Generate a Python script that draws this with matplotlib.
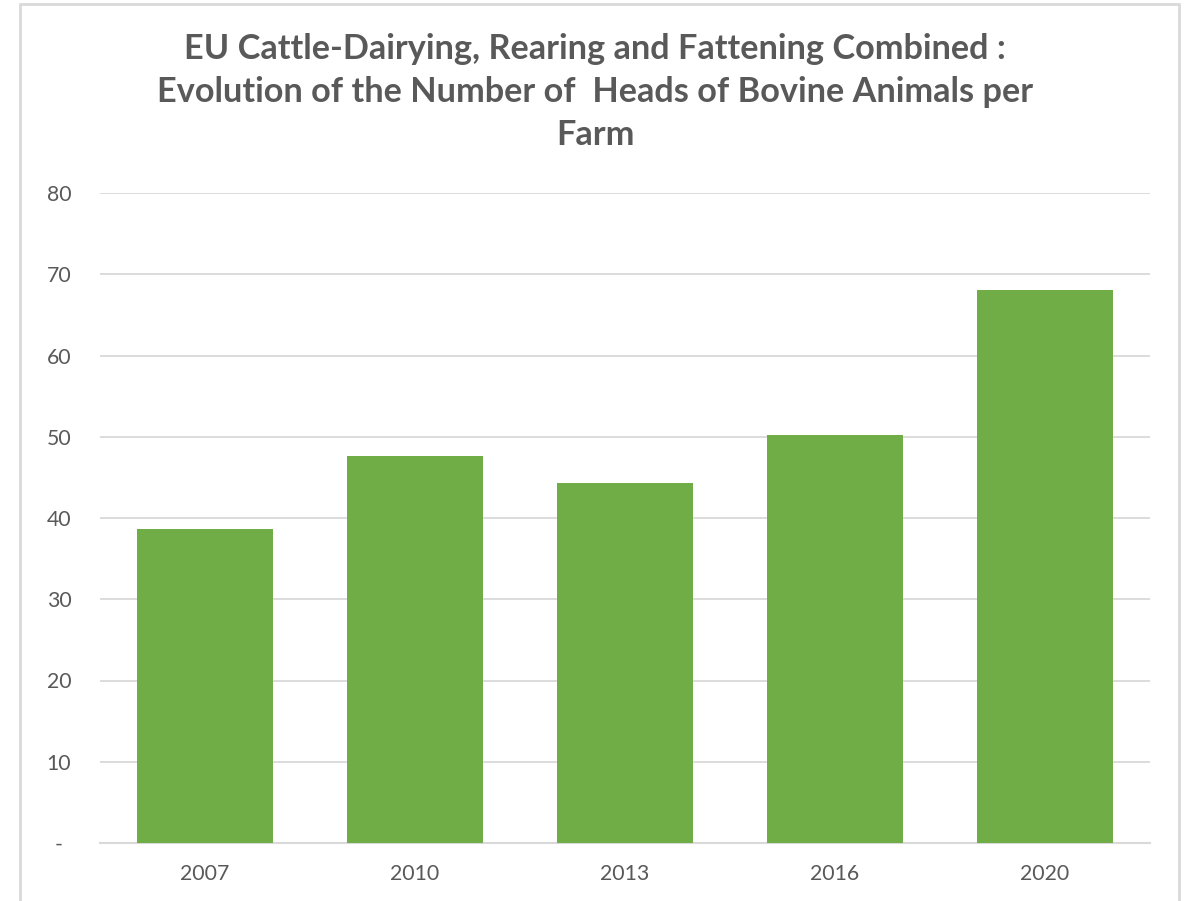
import matplotlib
matplotlib.use("Agg")
import matplotlib.pyplot as plt
from matplotlib.patches import Rectangle

years = ["2007", "2010", "2013", "2016", "2020"]
heads_per_farm = [38.7, 47.6, 44.3, 50.2, 68.1]
y_ticks = [0, 10, 20, 30, 40, 50, 60, 70, 80]
y_tick_labels = ["-", "10", "20", "30", "40", "50", "60", "70", "80"]
title = ("EU Cattle-Dairying, Rearing and Fattening Combined :\n"
         "Evolution of the Number of  Heads of Bovine Animals per\n"
         "Farm")

plt.rcParams['font.family'] = ['Lato', 'DejaVu Sans']
W, H = 1185, 901
fig = plt.figure(figsize=(W / 100, H / 100), dpi=100)
fig.patch.set_facecolor("white")

# outer chart border
fig.add_artist(Rectangle((20 / W, -0.05), (1179 - 20) / W, (H - 4) / H + 0.05,
                         transform=fig.transFigure, fill=False,
                         edgecolor="#D9D9D9", linewidth=2))

ax = fig.add_axes([100 / W, (H - 843) / H, 1050 / W, 650 / H])
x = range(len(years))
ax.bar(x, heads_per_farm, width=0.65, color="#70AD47", zorder=3)
ax.set_xlim(-0.5, len(years) - 0.5)
ax.set_ylim(0, 80)
ax.set_yticks(y_ticks)
ax.set_yticklabels(y_tick_labels)
ax.set_xticks(list(x))
ax.set_xticklabels(years)
ax.grid(axis="y", color="#D9D9D9", linewidth=1.3, zorder=0)
for s in ["top", "right", "left"]:
    ax.spines[s].set_visible(False)
ax.spines["bottom"].set_color("#D9D9D9")
ax.spines["bottom"].set_linewidth(1.5)
ax.tick_params(axis="both", length=0, labelsize=15.3, colors="#595959")
ax.tick_params(axis="y", pad=29.5)
ax.tick_params(axis="x", pad=15)
for lbl in ax.get_yticklabels():
    lbl.set_horizontalalignment("center")

fig.text(595 / W, 1 - 33 / H, title, ha="center", va="top",
         fontsize=24.7, fontweight="bold", color="#595959", linespacing=1.43)

fig.savefig("out.png", dpi=100)
